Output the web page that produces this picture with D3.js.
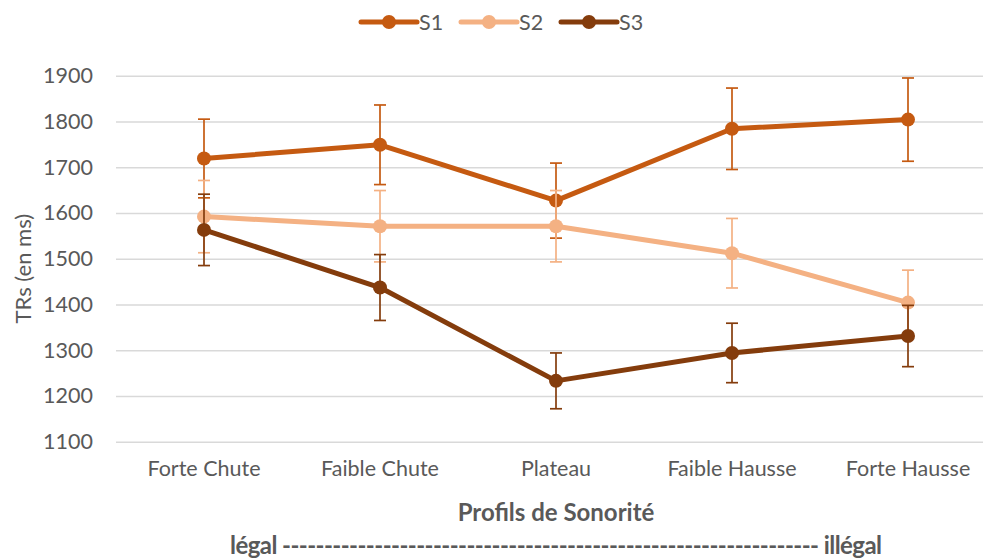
<!DOCTYPE html>
<html>
<head>
<meta charset="utf-8">
<script src="https://cdn.jsdelivr.net/npm/d3@7"></script>
<style>
  body { margin: 0; background: #fff; }
  text { font-family: Lato, "Open Sans", sans-serif; fill: #595959; }
</style>
</head>
<body>
<svg width="983" height="558"></svg>
<script>
// values
var categories = ["Forte Chute", "Faible Chute", "Plateau", "Faible Hausse", "Forte Hausse"];
var seriesNames = ["S1", "S2", "S3"];
var s1 = [1719, 1749, 1627, 1784, 1804];
var s2 = [1592, 1571, 1571, 1512, 1404];
var s3 = [1563, 1437, 1233, 1294, 1331];
var s1Err = [86, 87, 82, 89, 91];
var s2Err = [79, 78, 78, 76, 71];
var s3Err = [78, 72, 61, 65, 67];
var yTicks = [1100, 1200, 1300, 1400, 1500, 1600, 1700, 1800, 1900];
var colors = ["#C55A11", "#F4B183", "#843C0C"];

function main(){
    var svg = d3.select("svg");

    var left = 116, right = 996, top = 75.7, bottom = 441.7;

    var xScale = d3.scaleBand().domain(categories).range([left, right]);
    var yScale = d3.scaleLinear().domain([1100, 1900]).range([bottom, top]);

    var series = [
        {name: seriesNames[0], values: s1, err: s1Err, color: colors[0]},
        {name: seriesNames[1], values: s2, err: s2Err, color: colors[1]},
        {name: seriesNames[2], values: s3, err: s3Err, color: colors[2]}
    ];

    // gridlines
    var yAxis = svg.append("g")
        .attr("transform", "translate(" + left + ",0)")
        .call(d3.axisLeft(yScale).tickValues(yTicks).tickFormat(d3.format("d"))
            .tickSize(-(right - left)).tickPadding(23));
    yAxis.select(".domain").remove();
    yAxis.selectAll("line").attr("stroke", "#d9d9d9").attr("stroke-width", 1.6);
    yAxis.selectAll("text").style("font-size", "21.5px").attr("fill", "#595959");

    var xAxis = svg.append("g")
        .attr("transform", "translate(0," + bottom + ")")
        .call(d3.axisBottom(xScale).tickSize(0).tickPadding(19));
    xAxis.select(".domain").remove();
    xAxis.selectAll("text").style("font-size", "21.5px").attr("fill", "#595959");

    var cx = function(i){ return xScale(categories[i]) + xScale.bandwidth() / 2; };

    var line = d3.line()
        .x(function(d, i){ return cx(i); })
        .y(function(d){ return yScale(d); });

    // lines + error bars + markers, in series order
    series.forEach(function(s){
        var g = svg.append("g");
        g.append("path")
            .datum(s.values)
            .attr("d", line)
            .attr("fill", "none")
            .attr("stroke", s.color)
            .attr("stroke-width", 5)
            .attr("stroke-linejoin", "round");

        s.values.forEach(function(v, i){
            var x = cx(i), y1 = yScale(v + s.err[i]), y2 = yScale(v - s.err[i]);
            g.append("line").attr("x1", x).attr("x2", x).attr("y1", y1).attr("y2", y2)
                .attr("stroke", s.color).attr("stroke-width", 1.7);
            g.append("line").attr("x1", x - 6).attr("x2", x + 6).attr("y1", y1).attr("y2", y1)
                .attr("stroke", s.color).attr("stroke-width", 1.7);
            g.append("line").attr("x1", x - 6).attr("x2", x + 6).attr("y1", y2).attr("y2", y2)
                .attr("stroke", s.color).attr("stroke-width", 1.7);
        });

        g.selectAll("circle")
            .data(s.values)
            .enter()
            .append("circle")
            .attr("cx", function(d, i){ return cx(i); })
            .attr("cy", function(d){ return yScale(d); })
            .attr("r", 7)
            .attr("fill", s.color);
    });

    // legend
    var legend = svg.append("g").attr("transform", "translate(361,22)");
    series.forEach(function(s, i){
        var lg = legend.append("g").attr("transform", "translate(" + (i * 100) + ",0)");
        lg.append("line").attr("x1", 0).attr("x2", 56).attr("y1", 0).attr("y2", 0)
            .attr("stroke", s.color).attr("stroke-width", 5).attr("stroke-linecap", "round");
        lg.append("circle").attr("cx", 28).attr("cy", 0).attr("r", 7).attr("fill", s.color);
        lg.append("text").attr("x", 58).attr("y", 8).style("font-size", "21.5px").text(s.name);
    });

    // axis titles
    svg.append("text")
        .attr("transform", "translate(31," + ((top + bottom) / 2 + 10) + ") rotate(-90)")
        .attr("text-anchor", "middle")
        .style("font-size", "22px")
        .text("TRs (en ms)");

    svg.append("text")
        .attr("x", 556).attr("y", 521)
        .attr("text-anchor", "middle")
        .style("font-size", "24px").style("font-weight", "bold")
        .text("Profils de Sonorité");

    svg.append("text")
        .attr("x", 556).attr("y", 554)
        .attr("text-anchor", "middle")
        .attr("textLength", 652)
        .style("font-size", "24px").style("font-weight", "bold")
        .text("légal ---------------------------------------------------------------- illégal");
}
main();
</script>
</body>
</html>
